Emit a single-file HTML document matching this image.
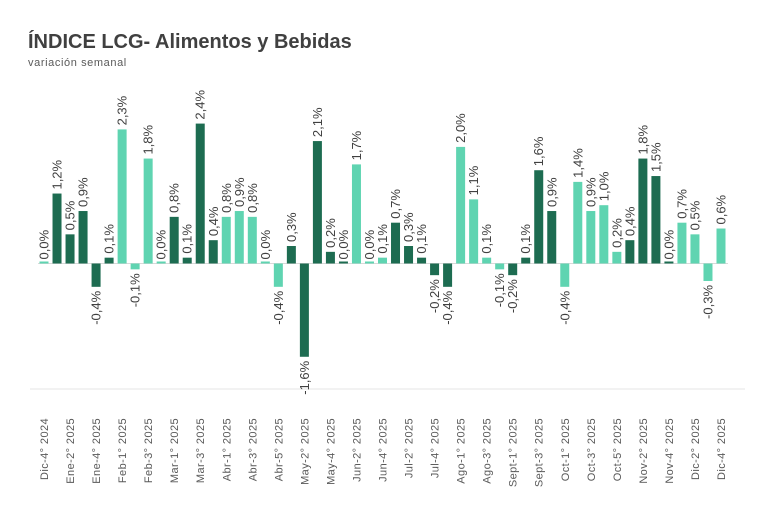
<!DOCTYPE html>
<html><head><meta charset="utf-8"><style>
body{margin:0;background:#fff;width:770px;height:519px;overflow:hidden;font-family:"Liberation Sans",sans-serif}
</style></head><body>
<svg id="c" width="770" height="519" xmlns="http://www.w3.org/2000/svg">
<text x="28" y="48" font-size="20" font-weight="bold" fill="#404040">ÍNDICE LCG- Alimentos y Bebidas</text>
<text x="28" y="66" font-size="11" fill="#595959" letter-spacing="0.6">variación semanal</text>
<line x1="30" y1="389" x2="745" y2="389" stroke="#e6e6e6" stroke-width="1"/>
<line x1="38" y1="263.5" x2="728" y2="263.5" stroke="#d9d9d9" stroke-width="1"/>
<g id="bars"></g><g id="labels"></g><g id="xt"></g>
</svg>
<script>
const values=[0.0,1.2,0.5,0.9,-0.4,0.1,2.3,-0.1,1.8,0.0,0.8,0.1,2.4,0.4,0.8,0.9,0.8,0.0,-0.4,0.3,-1.6,2.1,0.2,0.0,1.7,0.0,0.1,0.7,0.3,0.1,-0.2,-0.4,2.0,1.1,0.1,-0.1,-0.2,0.1,1.6,0.9,-0.4,1.4,0.9,1.0,0.2,0.4,1.8,1.5,0.0,0.7,0.5,-0.3,0.6];
const shades=["l","d","d","d","d","d","l","l","l","l","d","d","d","d","l","l","l","l","l","d","d","d","d","d","l","l","l","d","d","d","d","d","l","l","l","l","d","d","d","d","l","l","l","l","l","d","d","d","d","l","l","l","l"];
const tickLabels=["Dic-4° 2024","Ene-2° 2025","Ene-4° 2025","Feb-1° 2025","Feb-3° 2025","Mar-1° 2025","Mar-3° 2025","Abr-1° 2025","Abr-3° 2025","Abr-5° 2025","May-2° 2025","May-4° 2025","Jun-2° 2025","Jun-4° 2025","Jul-2° 2025","Jul-4° 2025","Ago-1° 2025","Ago-3° 2025","Sept-1° 2025","Sept-3° 2025","Oct-1° 2025","Oct-3° 2025","Oct-5° 2025","Nov-2° 2025","Nov-4° 2025","Dic-2° 2025","Dic-4° 2025"];
const NS="http://www.w3.org/2000/svg";
const x0=44,step=(721-44)/52,y0=263.5,k=58.3,bw=9;
const xs=i=>x0+i*step, ys=v=>y0-v*k;
const B=document.getElementById('bars'),L=document.getElementById('labels'),X=document.getElementById('xt');
values.forEach((v,i)=>{
  const r=document.createElementNS(NS,'rect');
  const top=Math.min(ys(v),y0),h=Math.max(Math.abs(ys(v)-y0),2);
  r.setAttribute('x',xs(i)-bw/2);r.setAttribute('y',v===0?y0-2:top);
  r.setAttribute('width',bw);r.setAttribute('height',h);
  r.setAttribute('fill',shades[i]==='d'?'#1d6c51':'#5fd4b1');
  
  
  B.appendChild(r);
  const t=document.createElementNS(NS,'text');
  const s=v.toFixed(1).replace('.',',')+'%';
  t.textContent=s;
  const cx=xs(i)+4.5;
  let ty,anchor;
  if(v>=0){ty=ys(v)-4;anchor='start';}else{ty=ys(v)+4;anchor='end';}
  t.setAttribute('transform','translate('+cx+','+ty+') rotate(-90)');
  t.setAttribute('text-anchor',anchor);
  t.setAttribute('font-size','13');t.setAttribute('fill','#404040');
  
  
  L.appendChild(t);
});
tickLabels.forEach((s,j)=>{
  const t=document.createElementNS(NS,'text');
  t.textContent=s;
  t.setAttribute('transform','translate('+(xs(j*2)+4)+',418) rotate(-90)');
  t.setAttribute('text-anchor','end');
  t.setAttribute('font-size','11');t.setAttribute('letter-spacing','0.4');t.setAttribute('fill','#595959');
  
  
  X.appendChild(t);
});
</script>
</body></html>
